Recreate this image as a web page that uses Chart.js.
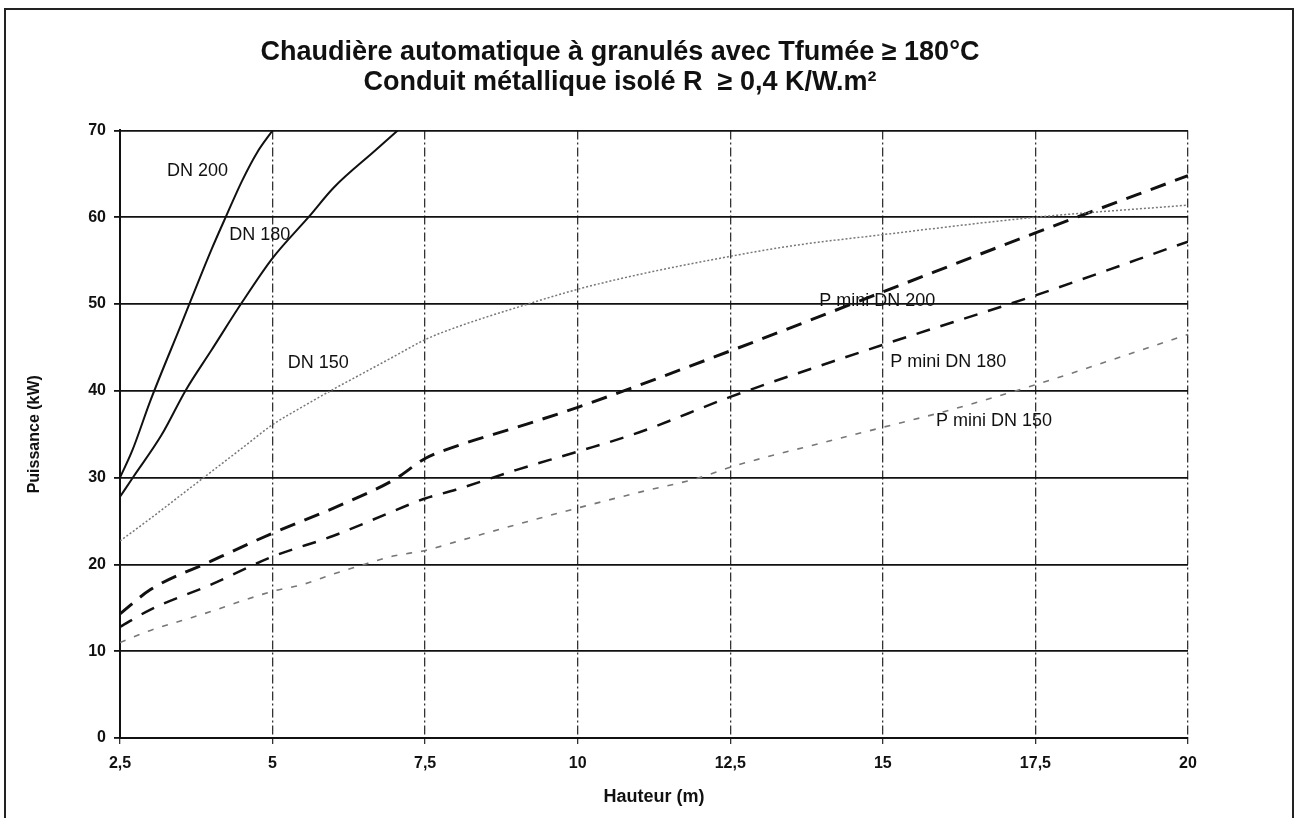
<!DOCTYPE html>
<html>
<head>
<meta charset="utf-8">
<script src="https://cdn.jsdelivr.net/npm/chart.js@4"></script>
<style>
    html, body { margin: 0; padding: 0; background: #fff; overflow: hidden; }
    .wrap { position: relative; width: 1295px; height: 818px; }
    .frame { position: absolute; left: 4px; top: 8px; width: 1286px; height: 830px; border: 2px solid #222; pointer-events: none; }
    canvas { position: absolute; left: 0; top: 0; }
</style>
</head>
<body>
<div class="wrap">
    <canvas id="chart" width="1295" height="818"></canvas>
    <div class="frame"></div>
</div>
<script>
// Hauteur (m) / Puissance (kW) for each curve
const hDN200 = [2.5, 2.7, 3, 3.5, 4, 4.25, 4.5, 4.75, 5];
const pDN200 = [30, 33.1, 38.9, 47.6, 56.3, 60.3, 64.2, 67.5, 70];

const hDN180 = [2.5, 2.72, 3.18, 3.58, 4, 4.5, 5, 5.6, 6, 6.7, 7.05];
const pDN180 = [27.8, 30.1, 34.9, 40.1, 44.7, 50.2, 55.3, 60.1, 63.4, 67.8, 70];

const hDN150 = [2.5, 3, 3.5, 4, 4.5, 5, 5.5, 6, 6.5, 7, 7.5, 8, 9, 10, 11, 12.5, 13.5, 15, 17.5, 20];
const pDN150 = [22.7, 25.3, 28, 30.7, 33.4, 36.1, 38.2, 40.2, 42.1, 44, 45.9, 47.3, 49.6, 51.7, 53.4, 55.5, 56.7, 58, 60, 61.4];

const hMin200 = [2.5, 3, 4, 5, 6, 7, 7.5, 8, 9, 10, 12.5, 15, 17.5, 20];
const pMin200 = [14.3, 17.1, 20.4, 23.6, 26.5, 29.8, 32.2, 33.6, 35.8, 38.1, 44.6, 51.4, 58.2, 64.8];

const hMin180 = [2.5, 3, 4, 5, 6, 7, 7.5, 8, 9, 10, 11, 12.5, 15, 17.5, 20];
const pMin180 = [12.8, 14.8, 17.7, 20.9, 23.3, 26.2, 27.6, 28.6, 30.9, 33, 35.2, 39.3, 45.3, 51, 57.2];

const hMin150 = [2.5, 3, 3.5, 4, 4.5, 5, 5.5, 6, 6.5, 7, 7.5, 8, 9, 10, 11, 12, 12.5, 13, 14, 15, 16, 17.5, 20];
const pMin150 = [11, 12.4, 13.5, 14.6, 15.8, 16.9, 17.7, 18.9, 20, 21, 21.6, 22.6, 24.6, 26.5, 28.3, 30, 31.2, 32.2, 34, 35.8, 37.6, 40.7, 46.5];

const xTicks = [2.5, 5, 7.5, 10, 12.5, 15, 17.5, 20];
const yTicks = [0, 10, 20, 30, 40, 50, 60, 70];

const curveNames = ["DN 200", "DN 180", "DN 150", "P mini DN 200", "P mini DN 180", "P mini DN 150"];

// where the curve names sit, in chart units
const nameSpots = [[3.77, 65.3], [4.79, 58.0], [5.75, 43.2], [14.91, 50.3], [16.07, 43.3], [16.82, 36.5]];

const FONT = "'Liberation Sans', Arial, sans-serif";

function points(h, p) {
    return h.map(function (x, i) { return { x: x, y: p[i] }; });
}

function line(name, h, p, color, width, dash) {
    return {
        label: name,
        data: points(h, p),
        borderColor: color,
        borderWidth: width,
        borderDash: dash,
        pointRadius: 0,
        fill: false,
        cubicInterpolationMode: 'monotone'
    };
}

const curveLabels = {
    id: 'curveLabels',
    afterDatasetsDraw(chart) {
        const ctx = chart.ctx;
        const xs = chart.scales.x, ys = chart.scales.y;
        ctx.save();
        ctx.font = "18px " + FONT;
        ctx.fillStyle = "#111";
        ctx.textAlign = "center";
        ctx.textBaseline = "middle";
        curveNames.forEach(function (name, i) {
            ctx.fillText(name, xs.getPixelForValue(nameSpots[i][0]), ys.getPixelForValue(nameSpots[i][1]));
        });
        ctx.restore();
    }
};

const ctx = document.getElementById('chart');

new Chart(ctx, {
    type: 'line',
    data: {
        datasets: [
            line(curveNames[0], hDN200, pDN200, '#111', 2, []),
            line(curveNames[1], hDN180, pDN180, '#111', 2, []),
            line(curveNames[2], hDN150, pDN150, '#777', 1.5, [2, 2]),
            line(curveNames[3], hMin200, pMin200, '#111', 3, [16, 10]),
            line(curveNames[4], hMin180, pMin180, '#111', 2.5, [14, 11]),
            line(curveNames[5], hMin150, pMin150, '#777', 1.6, [6, 9])
        ]
    },
    options: {
        responsive: false,
        animation: false,
        events: [],
        layout: { autoPadding: false, padding: { left: 0, right: 55, top: 0, bottom: 0 } },
        plugins: {
            legend: { display: false },
            tooltip: { enabled: false },
            title: {
                display: true,
                text: ["Chaudière automatique à granulés avec Tfumée ≥ 180°C", "Conduit métallique isolé R  ≥ 0,4 K/W.m²"],
                color: '#111',
                font: { family: FONT, size: 27, weight: 'bold', lineHeight: 1.12 },
                padding: { top: 37, bottom: 33 }
            }
        },
        scales: {
            x: {
                type: 'linear',
                min: 2.5,
                max: 20,
                afterFit: function (scale) { scale.height = 80; },
                afterBuildTicks: function (scale) {
                    scale.ticks = xTicks.map(function (v) { return { value: v }; });
                },
                ticks: {
                    color: '#111',
                    font: { family: FONT, size: 16, weight: 'bold' },
                    padding: 10,
                    maxRotation: 0,
                    callback: function (v) { return String(v).replace('.', ','); }
                },
                grid: { color: '#333', lineWidth: 1.3, tickLength: 6 },
                border: { color: '#111', width: 2, dash: [9, 3, 2, 3] },
                title: {
                    display: true,
                    text: 'Hauteur (m)',
                    color: '#111',
                    font: { family: FONT, size: 18, weight: 'bold' },
                    padding: { top: 0, bottom: 10 }
                }
            },
            y: {
                min: 0,
                max: 70,
                afterFit: function (scale) { scale.width = 120; },
                afterBuildTicks: function (scale) {
                    scale.ticks = yTicks.map(function (v) { return { value: v }; });
                },
                ticks: {
                    color: '#111',
                    font: { family: FONT, size: 16, weight: 'bold' },
                    padding: 8
                },
                grid: { color: '#111', lineWidth: 1.8, tickLength: 6 },
                border: { color: '#111', width: 2 },
                title: {
                    display: true,
                    text: 'Puissance (kW)',
                    color: '#111',
                    font: { family: FONT, size: 16, weight: 'bold' },
                    padding: { top: 25, bottom: 0 }
                }
            },
            // empty strip on the right so the title centres where the original does
            yRight: {
                position: 'right',
                afterFit: function (scale) { scale.width = 52; },
                ticks: { display: false },
                grid: { display: false },
                border: { display: false }
            }
        }
    },
    plugins: [curveLabels]
});
</script>
</body>
</html>
